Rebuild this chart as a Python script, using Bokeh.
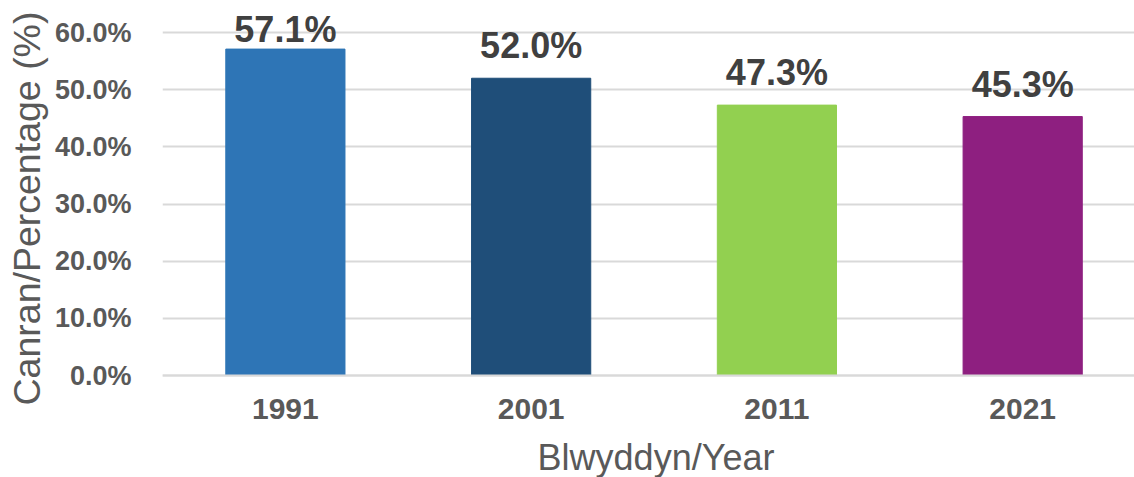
from bokeh.plotting import figure
from bokeh.models import ColumnDataSource, FixedTicker, NumeralTickFormatter, Range1d, Label, Title
from bokeh.core.properties import value
from bokeh.embed import file_html
from bokeh.resources import INLINE

years = [1991, 2001, 2011, 2021]
percentages = [0.571, 0.520, 0.473, 0.453]
labels = ["57.1%", "52.0%", "47.3%", "45.3%"]
colors = ["#2E75B6", "#1F4E79", "#92D050", "#8E1F80"]
y_ticks = [0.0, 0.1, 0.2, 0.3, 0.4, 0.5, 0.6]
x_title = "Blwyddyn/Year"
y_title = "Canran/Percentage (%)"

# data labels sit above the bars but are kept inside the plot area (as in the original)
LABEL_CAP = 0.548
label_y = [min(v, LABEL_CAP) for v in percentages]

src = ColumnDataSource(dict(x=years, y=percentages, ly=label_y, label=labels, color=colors))

FONT = "Liberation Sans"

p = figure(width=1134, height=477, output_backend="svg", toolbar_location=None,
           x_range=Range1d(1986.0, 2025.55), y_range=Range1d(-0.1784, 0.656),
           min_border_left=161, min_border_right=0, min_border_top=0, min_border_bottom=0)
p.outline_line_color = None
p.background_fill_color = "white"
p.border_fill_color = "white"

p.vbar(x="x", top="y", width=4.85, color="color", source=src)
p.text(x="x", y="ly", text="label", source=src, text_align="center", text_baseline="bottom",
       y_offset=-12, text_font=value(FONT), text_font_style="bold", text_font_size="36px",
       text_color="#404040")

p.xgrid.grid_line_color = None
p.ygrid.grid_line_color = "#d9d9d9"
p.ygrid.grid_line_width = 2
p.ygrid.ticker = FixedTicker(ticks=y_ticks)

p.yaxis.ticker = FixedTicker(ticks=y_ticks)
p.yaxis.formatter = NumeralTickFormatter(format="0.0%")
p.yaxis.axis_line_color = None
p.yaxis.major_tick_line_color = None
p.yaxis.minor_tick_line_color = None
p.yaxis.major_label_standoff = 25
p.yaxis.major_label_text_font = FONT
p.yaxis.major_label_text_font_style = "bold"
p.yaxis.major_label_text_font_size = "27px"
p.yaxis.major_label_text_color = "#595959"

p.xaxis.fixed_location = 0
p.xaxis.ticker = FixedTicker(ticks=years)
p.xaxis.formatter = NumeralTickFormatter(format="0")
p.xaxis.axis_line_color = "#d9d9d9"
p.xaxis.axis_line_width = 2
p.xaxis.major_tick_line_color = None
p.xaxis.minor_tick_line_color = None
p.xaxis.major_label_standoff = 17
p.xaxis.major_label_text_font = FONT
p.xaxis.major_label_text_font_style = "bold"
p.xaxis.major_label_text_font_size = "30px"
p.xaxis.major_label_text_color = "#595959"

# x-axis title inside the frame, below the axis (screen units relative to the frame)
p.add_layout(Label(x=493.5, y=0, x_units="screen", y_units="screen", text=x_title,
                   text_align="center", text_baseline="bottom",
                   text_font=FONT, text_font_size="36px", text_color="#595959"))

# y-axis title as a side title
p.add_layout(Title(text=y_title, align="left", offset=72, standoff=7,
                   text_font=FONT, text_font_size="37.5px", text_font_style="normal",
                   text_color="#595959"), "left")

open("out.html", "w").write(file_html(p, INLINE))
